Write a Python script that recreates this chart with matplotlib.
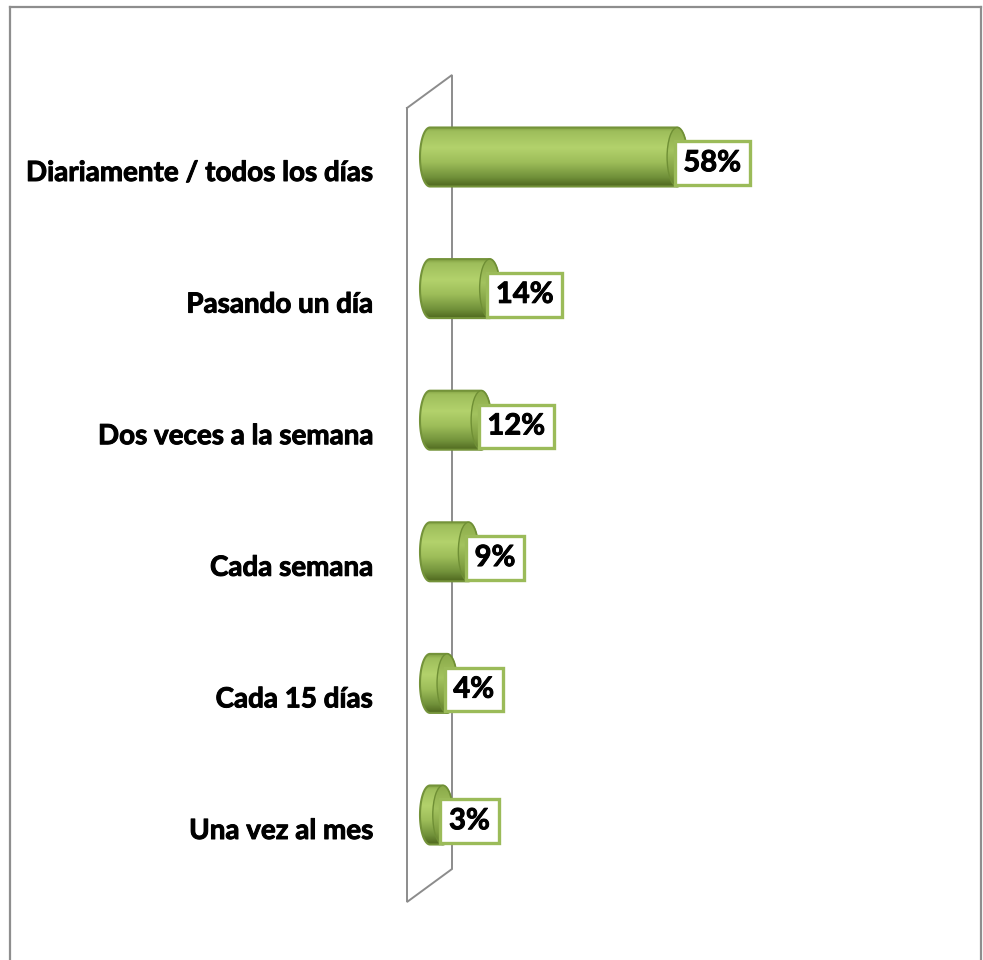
import numpy as np
import matplotlib
matplotlib.use("Agg")
import matplotlib.pyplot as plt
from matplotlib.path import Path
from matplotlib.patches import PathPatch, Ellipse
from matplotlib.lines import Line2D
from matplotlib.colors import LinearSegmentedColormap
import matplotlib.patheffects as pe

# --- data -------------------------------------------------------------
categories = [
    "Diariamente / todos los días",
    "Pasando un día",
    "Dos veces a la semana",
    "Cada semana",
    "Cada 15 días",
    "Una vez al mes",
]
values = [58, 14, 12, 9, 4, 3]
value_labels = ["58%", "14%", "12%", "9%", "4%", "3%"]

# --- figure / axes ----------------------------------------------------
W, H, DPI = 983, 960, 100
fig = plt.figure(figsize=(W / DPI, H / DPI), dpi=DPI)
ax = fig.add_axes([0, 0, 1, 1])
ax.set_axis_off()

# axis scale: value 0 at x=430 px, 4.26 px per percent; rows 131.6 px apart
X0_PX, PX_PER_PCT = 430.0, 4.26
Y0_PX, ROW_PX = 157.0, 131.6
xlim = (-X0_PX / PX_PER_PCT, (W - X0_PX) / PX_PER_PCT)
ylim = ((H - Y0_PX) / ROW_PX, -Y0_PX / ROW_PX)


def px_x(p):
    return (p - X0_PX) / PX_PER_PCT


def px_y(p):
    return (p - Y0_PX) / ROW_PX


FONT = ["Lato", "DejaVu Sans"]
heavier = [pe.withStroke(linewidth=0.7, foreground="black")]

# --- back wall (3-D plane behind the bars) ---------------------------
wall_col = "#8c8c8c"
wx = [px_x(407), px_x(452), px_x(452), px_x(407), px_x(407)]
wy = [px_y(108), px_y(75), px_y(869), px_y(902), px_y(108)]
ax.plot(wx, wy, color=wall_col, lw=1.4, zorder=1, solid_joinstyle="miter")

# --- cylinder bars ----------------------------------------------------
body_cmap = LinearSegmentedColormap.from_list(
    "body",
    [(0.0, "#7f9e40"), (0.07, "#9ebe5b"), (0.35, "#b3d26c"),
     (0.6, "#9dbd59"), (0.85, "#71913a"), (1.0, "#50691f")],
)
face_cmap = LinearSegmentedColormap.from_list(
    "face",
    [(0.0, "#8aa948"), (0.4, "#a3c35f"), (0.8, "#7d9c3f"), (1.0, "#5f7b2c")],
)
grad = np.linspace(0, 1, 256).reshape(-1, 1)

bar_h = 59 / ROW_PX           # cylinder diameter in row units
cap_hw = 10 / PX_PER_PCT      # half-width of the elliptic end caps
t = np.linspace(np.pi / 2, 3 * np.pi / 2, 60)

for i, v in enumerate(values):
    yc = i
    top, bot = yc - bar_h / 2, yc + bar_h / 2
    # outline: rounded back end, straight sides, rounded front end
    left = np.column_stack([cap_hw * np.cos(t), yc - (bar_h / 2) * np.sin(t)])
    right = np.column_stack([v - cap_hw * np.cos(t), yc + (bar_h / 2) * np.sin(t)])
    verts = np.vstack([left, right, left[:1]])
    codes = [Path.MOVETO] + [Path.LINETO] * (len(verts) - 2) + [Path.CLOSEPOLY]
    path = Path(verts, codes)

    im = ax.imshow(grad, cmap=body_cmap, aspect="auto", origin="upper",
                   extent=(-cap_hw, v + cap_hw, bot, top), zorder=2,
                   interpolation="bilinear")
    clip = PathPatch(path, facecolor="none", edgecolor="none", transform=ax.transData)
    ax.add_patch(clip)
    im.set_clip_path(clip)
    ax.add_patch(PathPatch(path, facecolor="none", edgecolor="#74933a",
                           lw=1.5, zorder=3))

    # visible end face of the cylinder
    face = Ellipse((v, yc), 2 * cap_hw, bar_h, facecolor="none",
                   edgecolor="#6f8f35", lw=1.0, zorder=4)
    fim = ax.imshow(grad, cmap=face_cmap, aspect="auto", origin="upper",
                    extent=(v - cap_hw, v + cap_hw, bot, top), zorder=3.5,
                    interpolation="bilinear")
    ax.add_patch(face)
    fim.set_clip_path(face)

    # value label in a framed box at the bar end
    ax.annotate(value_labels[i], xy=(v, yc), xytext=(4.5, -4.5),
                textcoords="offset points", ha="left", va="center",
                fontsize=21, fontweight="bold", family=FONT, color="black",
                zorder=6, path_effects=heavier,
                bbox=dict(boxstyle="square,pad=0.3", facecolor="white",
                          edgecolor="#9bbb59", lw=2.4))

    # category label
    ax.text(px_x(373), yc + 16 / ROW_PX, categories[i], ha="right", va="center",
            fontsize=20, fontweight="bold", family=FONT, color="black", zorder=6,
            path_effects=heavier)

ax.set_xlim(*xlim)
ax.set_ylim(*ylim)

# --- chart-area border ------------------------------------------------
bc = "#8e8e8e"
fx = lambda p: p / W
fy = lambda p: 1 - p / H
for (x1, y1, x2, y2) in [(10, 7, 981, 7), (10, 7, 10, 960), (981, 7, 981, 960)]:
    fig.add_artist(Line2D([fx(x1), fx(x2)], [fy(y1), fy(y2)],
                          transform=fig.transFigure, color=bc, lw=1.6))

fig.savefig("out.png", dpi=DPI)
